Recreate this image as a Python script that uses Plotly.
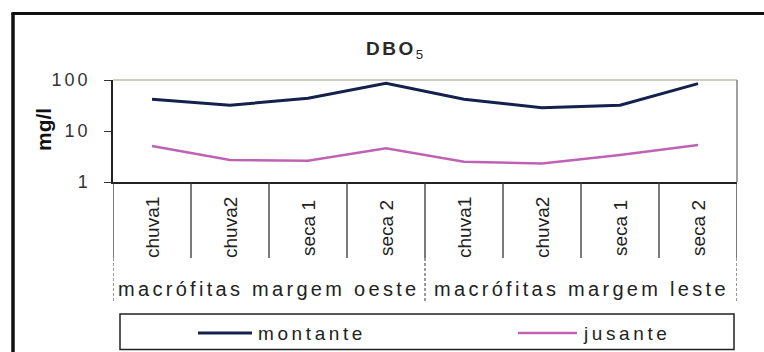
import plotly.graph_objects as go

# --- data -----------------------------------------------------------------
grupos = ["macrófitas margem oeste", "macrófitas margem leste"]
campanhas = ["chuva1", "chuva2", "seca 1", "seca 2",
             "chuva1", "chuva2", "seca 1", "seca 2"]
montante = [42, 32, 44, 86, 42, 28.5, 32, 85]
jusante = [5.1, 2.7, 2.6, 4.6, 2.5, 2.3, 3.4, 5.3]
series_nomes = ["montante", "jusante"]
ytick_vals = [1, 10, 100]
ytick_text = ["1", "10", "100"]

# --- styling ----------------------------------------------------------------
W, H = 764, 352
L, R, T, B = 113, 737, 80, 182          # plot area (px)
FONT = "Liberation Sans, Arial, sans-serif"
NAVY = "#15204c"
PINK = "#bf62b5"
INK = "#222222"


def px(xp):
    return (xp - L) / (R - L)


def py(yp):
    return (B - yp) / (B - T)


def wide(text, sp=3.3, extra=""):
    return f'<span style="letter-spacing:{sp}px{extra}">{text}</span>'


xs = list(range(len(campanhas)))

fig = go.Figure()
fig.add_trace(go.Scatter(x=xs, y=montante, mode="lines", name=series_nomes[0],
                         line=dict(color=NAVY, width=3), showlegend=False))
fig.add_trace(go.Scatter(x=xs, y=jusante, mode="lines", name=series_nomes[1],
                         line=dict(color=PINK, width=2.5), showlegend=False))

shapes = []
# plot frame: top and right edges
shapes.append(dict(type="line", xref="paper", yref="paper", x0=0, x1=1, y0=1, y1=1,
                   line=dict(color="#9c9c88", width=1.2)))
shapes.append(dict(type="line", xref="paper", yref="paper", x0=1, x1=1, y0=0, y1=1,
                   line=dict(color="#808080", width=1.5)))

# category separators below the axis
n = len(campanhas)
per_group = n // len(grupos)
for k in range(1, n):
    if k % per_group == 0:
        continue
    shapes.append(dict(type="line", xref="x", yref="paper", x0=k - 0.5, x1=k - 0.5,
                       y0=0, y1=py(258), line=dict(color="#333333", width=1.3)))
# group boundaries
for k in range(0, n + 1, per_group):
    shapes.append(dict(type="line", xref="x", yref="paper", x0=k - 0.5, x1=k - 0.5,
                       y0=0, y1=py(258), line=dict(color="#333333", width=1.3)))
    shapes.append(dict(type="line", xref="x", yref="paper", x0=k - 0.5, x1=k - 0.5,
                       y0=py(258), y1=py(303),
                       line=dict(color="#666666", width=1.3, dash="3px,2px")))

# outer chart frame (left and top)
shapes.append(dict(type="line", xref="paper", yref="paper", x0=px(13), x1=px(13),
                   y0=py(13), y1=py(360), line=dict(color="#111111", width=3.5)))
shapes.append(dict(type="line", xref="paper", yref="paper", x0=px(11.5), x1=px(770),
                   y0=py(13.5), y1=py(13.5), line=dict(color="#111111", width=3)))

# legend box and keys
shapes.append(dict(type="rect", xref="paper", yref="paper", x0=px(120), x1=px(734),
                   y0=py(349.5), y1=py(314), line=dict(color=INK, width=1.5)))
leg_keys = [(198, 252, NAVY, 3), (518, 577, PINK, 2.5)]
for x0, x1, col, w in leg_keys:
    shapes.append(dict(type="line", xref="paper", yref="paper", x0=px(x0), x1=px(x1),
                       y0=py(333), y1=py(333), line=dict(color=col, width=w)))

annotations = []
# title
annotations.append(dict(text=wide("DBO", 2.5, ";font-weight:bold") + "<sub>5</sub>",
                        xref="paper", yref="paper",
                        x=px(394), y=py(50), xanchor="center", yanchor="middle",
                        showarrow=False, font=dict(family=FONT, size=19, color="#2a2a2a")))
# y-axis title
annotations.append(dict(text="<b>mg/l</b>", xref="paper", yref="paper",
                        x=px(43), y=py(130), xanchor="center", yanchor="middle",
                        textangle=-90, showarrow=False,
                        font=dict(family=FONT, size=21, color="#111111")))
# category labels
for i, c in enumerate(campanhas):
    annotations.append(dict(text=c, xref="x", yref="paper", x=i, y=py(228),
                            xanchor="center", yanchor="middle", textangle=-90,
                            showarrow=False,
                            font=dict(family=FONT, size=19, color=INK)))
# group labels
for g, nome in enumerate(grupos):
    annotations.append(dict(text=wide(nome), xref="x", yref="paper",
                            x=g * per_group + (per_group - 1) / 2, y=py(289),
                            xanchor="center", yanchor="middle", showarrow=False,
                            font=dict(family=FONT, size=20, color=INK)))
# legend labels
for (x0, x1, col, w), nome in zip(leg_keys, series_nomes):
    annotations.append(dict(text=wide(nome, 3.6), xref="paper", yref="paper",
                            x=px(x1 + 4), y=py(333), xanchor="left", yanchor="middle",
                            showarrow=False,
                            font=dict(family=FONT, size=19, color=INK)))

fig.update_layout(
    width=W, height=H,
    margin=dict(l=L, r=W - R, t=T, b=H - B, autoexpand=False),
    paper_bgcolor="white", plot_bgcolor="white",
    shapes=shapes, annotations=annotations,
    showlegend=False,
    xaxis=dict(range=[-0.5, n - 0.5], showticklabels=False, ticks="",
               showgrid=False, zeroline=False,
               showline=True, linecolor=INK, linewidth=1.5),
    yaxis=dict(type="log", range=[0, 2], tickvals=ytick_vals,
               ticktext=[wide(t, 3) for t in ytick_text],
               ticks="outside", ticklen=7, tickwidth=1.3, tickcolor="#333333",
               ticklabelstandoff=10,
               tickfont=dict(family=FONT, size=18, color="#333333"),
               showgrid=False, zeroline=False,
               showline=True, linecolor=INK, linewidth=1.5),
)

fig.write_html("out.html")
